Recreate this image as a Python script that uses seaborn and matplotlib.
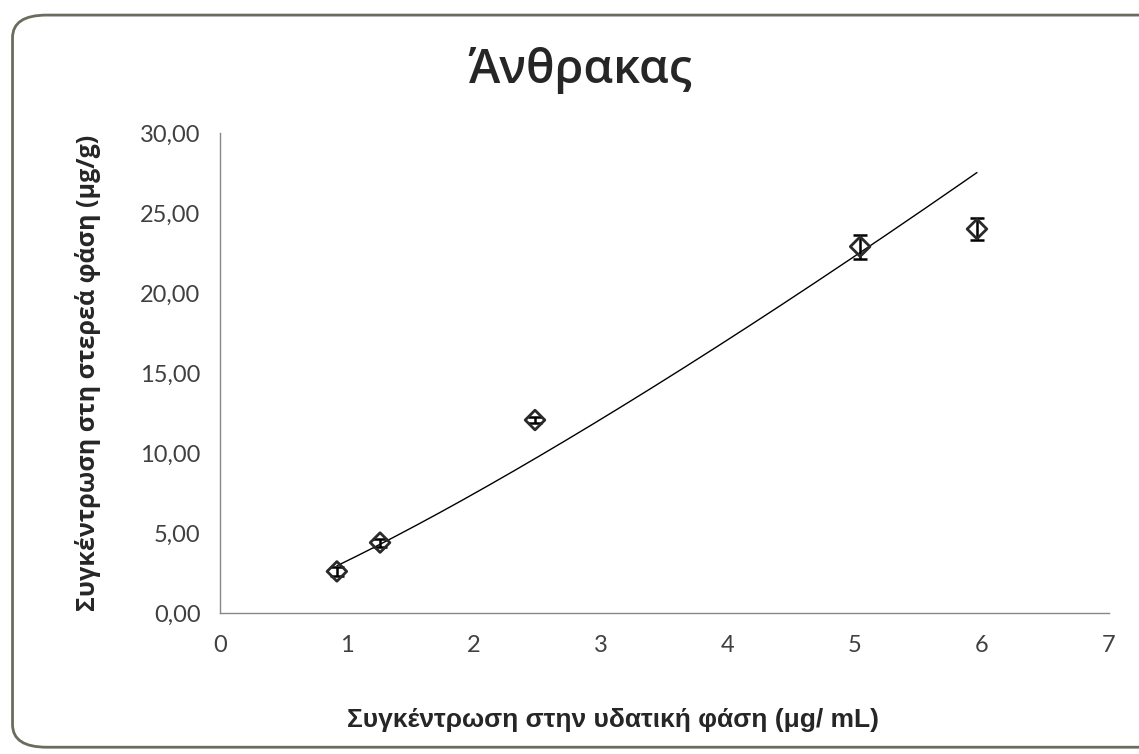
import numpy as np
import pandas as pd
import seaborn as sns
import matplotlib.pyplot as plt
from matplotlib.patches import FancyBboxPatch

# data
conc_water = [0.92, 1.26, 2.48, 5.04, 5.96]     # μg/mL
conc_solid = [2.60, 4.40, 12.06, 22.90, 24.00]  # μg/g
conc_err = [0.30, 0.25, 0.20, 0.75, 0.70]
x_ticks = [0, 1, 2, 3, 4, 5, 6, 7]
y_ticks = [0, 5, 10, 15, 20, 25, 30]

df = pd.DataFrame({"x": conc_water, "y": conc_solid, "err": conc_err})

# power-law (Freundlich) trendline fitted in log space
slope, icpt = np.polyfit(np.log(df["x"]), np.log(df["y"]), 1)
xfit = np.linspace(min(conc_water), max(conc_water), 200)
fit = pd.DataFrame({"x": xfit, "y": np.exp(icpt) * xfit ** slope})

sns.set_style("white")
plt.rcParams['font.family'] = ['Lato', 'DejaVu Sans']

fig = plt.figure(figsize=(11.39, 7.54), dpi=100)
ax = fig.add_axes([0.1932, 0.187, 0.7805, 0.6366])

sns.lineplot(data=fit, x="x", y="y", ax=ax, color="black", linewidth=1.0)
ax.errorbar(df["x"], df["y"], yerr=df["err"], fmt="none", ecolor="black",
            elinewidth=1.8, capsize=5, capthick=1.8, zorder=3)
sns.scatterplot(data=df, x="x", y="y", ax=ax, marker="D", s=100,
                facecolor="none", edgecolor="#2a2a2a", linewidth=2.0, zorder=4)

ax.set_xlim(0, 7)
ax.set_ylim(0, 30)
ax.set_xticks(x_ticks)
ax.set_yticks(y_ticks)
ax.set_yticklabels([f"{v:.2f}".replace(".", ",") for v in y_ticks])
for s in ["top", "right"]:
    ax.spines[s].set_visible(False)
for s in ["left", "bottom"]:
    ax.spines[s].set_color("#888888")
    ax.spines[s].set_linewidth(1.0)
ax.tick_params(axis="y", direction="out", length=6, color="#888888",
               labelsize=17, labelcolor="#404040", pad=8)
ax.tick_params(axis="x", direction="inout", length=8, color="#888888",
               labelsize=17, labelcolor="#404040", pad=12)

ax.set_xlabel("Συγκέντρωση στην υδατική φάση (μg/ mL)", fontsize=19,
              fontweight="bold", family=["Liberation Sans", "DejaVu Sans"])
ax.xaxis.set_label_coords(0.442, -0.198)
ax.set_ylabel("Συγκέντρωση στη στερεά φάση (μg/g)", fontsize=18,
              fontweight="bold", family=["Open Sans", "DejaVu Sans"], labelpad=28)

fig.text(0.509, 0.907, "Άνθρακας", ha="center", va="center", fontsize=34,
         fontweight="semibold", family=["Open Sans", "DejaVu Sans"])

# rounded chart frame
frame = FancyBboxPatch((0.011, 0.009), 1.1, 0.971,
                       boxstyle="round,pad=0,rounding_size=0.03",
                       transform=fig.transFigure, facecolor="none",
                       edgecolor="#6b6b5e", linewidth=2.0, clip_on=False)
fig.patches.append(frame)

fig.savefig("out.png", dpi=100)
